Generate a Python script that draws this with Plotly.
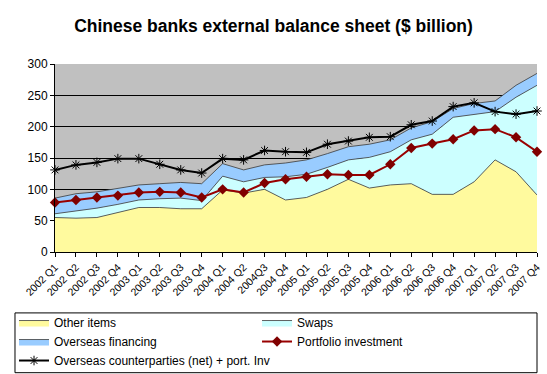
import plotly.graph_objects as go

quarters = ["2002 Q1", "2002 Q2", "2002 Q3", "2002 Q4", "2003 Q1", "2003 Q2", "2003 Q3", "2003 Q4",
            "2004 Q1", "2004 Q2", "2004Q3", "2004 Q4", "2005 Q1", "2005 Q2", "2005 Q3", "2005 Q4",
            "2006 Q1", "2006 Q2", "2006 Q3", "2006 Q4", "2007 Q1", "2007 Q2", "2007 Q3", "2007 Q4"]

other_items = [55, 54, 55, 63, 71, 71, 69, 69, 99, 94, 100, 83, 87, 100, 116, 102, 107, 109, 92, 92, 112, 147, 128, 91]
swaps = [6, 11, 15, 13, 12, 14, 17, 13, 22, 18, 19, 37, 37, 35, 31, 49, 53, 70, 96, 123, 107, 77, 119, 175]
overseas_financing = [25, 28, 26, 25, 24, 24, 25, 27, 20, 19, 20, 22, 23, 22, 21, 21, 19, 19, 20, 14, 18, 17, 19, 19]
portfolio_investment = [79, 83, 87, 90, 95, 96, 95, 87, 100, 95, 110, 116, 120, 124, 123, 123, 140, 166, 173, 180, 194, 196, 183, 160]
counterparties = [131, 139, 143, 149, 149, 140, 131, 126, 149, 147, 162, 160, 159, 172, 177, 183, 184, 203, 209, 232, 238, 224, 220, 225]

edge = dict(color="#3a3a3a", width=0.8)

fig = go.Figure()
fig.add_trace(go.Scatter(x=quarters, y=other_items, name="Other items", stackgroup="s",
                         mode="lines", line=edge, fillcolor="#FFFA9E"))
fig.add_trace(go.Scatter(x=quarters, y=swaps, name="Swaps", stackgroup="s",
                         mode="lines", line=edge, fillcolor="#CCFFFF"))
fig.add_trace(go.Scatter(x=quarters, y=overseas_financing, name="Overseas financing", stackgroup="s",
                         mode="lines", line=edge, fillcolor="#99CCFF"))
fig.add_trace(go.Scatter(x=quarters, y=portfolio_investment, name="Portfolio investment",
                         mode="lines+markers", line=dict(color="#990000", width=2),
                         marker=dict(symbol="diamond", size=8, color="#800000"), cliponaxis=False))
fig.add_trace(go.Scatter(x=quarters, y=counterparties, name="Overseas counterparties (net) + port. Inv",
                         mode="lines+markers", line=dict(color="#000000", width=2),
                         marker=dict(symbol="asterisk-open", size=8, color="#000000",
                                     line=dict(color="#000000", width=1)), cliponaxis=False))

# legend frame (decoration only)
fig.add_shape(type="rect", xref="paper", yref="paper",
              x0=-0.083, x1=1.0, y0=-0.642, y1=-0.324,
              line=dict(color="#000000", width=1), fillcolor="rgba(0,0,0,0)", layer="above")

fig.update_layout(
    width=547, height=374,
    margin=dict(l=55, r=10, t=64, b=122, autoexpand=False),
    paper_bgcolor="white",
    plot_bgcolor="#C0C0C0",
    font=dict(family="Liberation Sans, Arial, sans-serif", color="#000000", size=11),
    title=dict(text="<b>Chinese banks external balance sheet ($ billion)</b>",
               x=0.5, xanchor="center", y=0.93, yanchor="middle",
               font=dict(size=17.5)),
    showlegend=True,
    legend=dict(orientation="h", x=-0.085, xanchor="left", y=-0.298, yanchor="top",
                borderwidth=0, bgcolor="rgba(0,0,0,0)",
                entrywidth=198, entrywidthmode="pixels", traceorder="normal",
                font=dict(size=12), itemwidth=30, tracegroupgap=0),
)
fig.update_xaxes(type="category", range=[0, 23], showgrid=False, showline=True,
                 linecolor="#000000", linewidth=1, ticks="outside", ticklen=4,
                 tickcolor="#000000", tickangle=-45, tickfont=dict(size=10.5), automargin=False)
fig.update_yaxes(range=[0, 300], dtick=50, showgrid=True, gridcolor="#000000", gridwidth=1,
                 showline=True, linecolor="#000000", linewidth=1, ticks="outside", ticklen=4,
                 tickcolor="#000000", tickfont=dict(size=12), zeroline=False, automargin=False)

fig.write_html("out.html", config={"displayModeBar": False},
               post_script="document.body.style.margin='0px';")
